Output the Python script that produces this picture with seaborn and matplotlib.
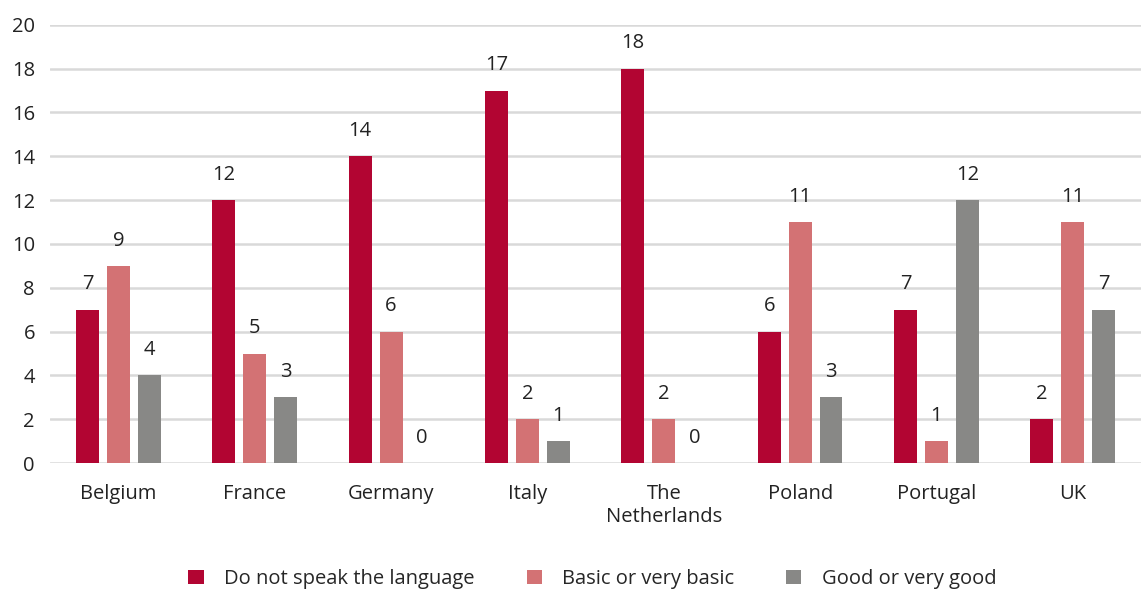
import pandas as pd
import numpy as np
import matplotlib
matplotlib.use('Agg')
import matplotlib.pyplot as plt
import seaborn as sns

# Data
countries = ['Belgium', 'France', 'Germany', 'Italy', 'The\nNetherlands',
             'Poland', 'Portugal', 'UK']
no_speak = [7, 12, 14, 17, 18, 6, 7, 2]
basic = [9, 5, 6, 2, 2, 11, 1, 11]
good = [4, 3, 0, 1, 0, 3, 12, 7]
series = ['Do not speak the language', 'Basic or very basic', 'Good or very good']
colors = ['#B20532', '#D37274', '#888886']

df = pd.DataFrame({'country': countries * 3,
                   'level': [series[0]] * 8 + [series[1]] * 8 + [series[2]] * 8,
                   'value': no_speak + basic + good})

sns.set_theme(style='white')
plt.rcParams['font.family'] = ['Open Sans', 'DejaVu Sans']
fs = 14.5

fig = plt.figure(figsize=(11.41, 5.9), dpi=100)
ax = fig.add_axes([0.044, 0.215, 0.956, 0.743])

sns.barplot(data=df, x='country', y='value', hue='level', palette=colors,
            width=0.68, gap=0.26, saturation=1, linewidth=0, ax=ax, legend=True)

for cont in ax.containers:
    ax.bar_label(cont, labels=[f'{v:.0f}' for v in cont.datavalues],
                 padding=11, fontsize=fs, color='#222222')

ax.set_ylim(0, 20)
ax.set_yticks(range(0, 21, 2))
ax.set_xlim(-0.5, 7.5)
ax.yaxis.grid(True, color='#D9D9D9', linewidth=1.8)
ax.set_axisbelow(True)
for s in ax.spines.values():
    s.set_visible(False)
ax.set_xlabel('')
ax.set_ylabel('')
ax.tick_params(axis='both', length=0, labelsize=fs, colors='#222222')
ax.tick_params(axis='y', pad=11)
ax.tick_params(axis='x', pad=15)

ax.legend(loc='upper center', bbox_to_anchor=(0.497, -0.2), ncol=3, frameon=False,
          fontsize=fs, handlelength=0.75, handleheight=0.75, columnspacing=2.6,
          handletextpad=1.0)

fig.savefig('out.png', dpi=100)
